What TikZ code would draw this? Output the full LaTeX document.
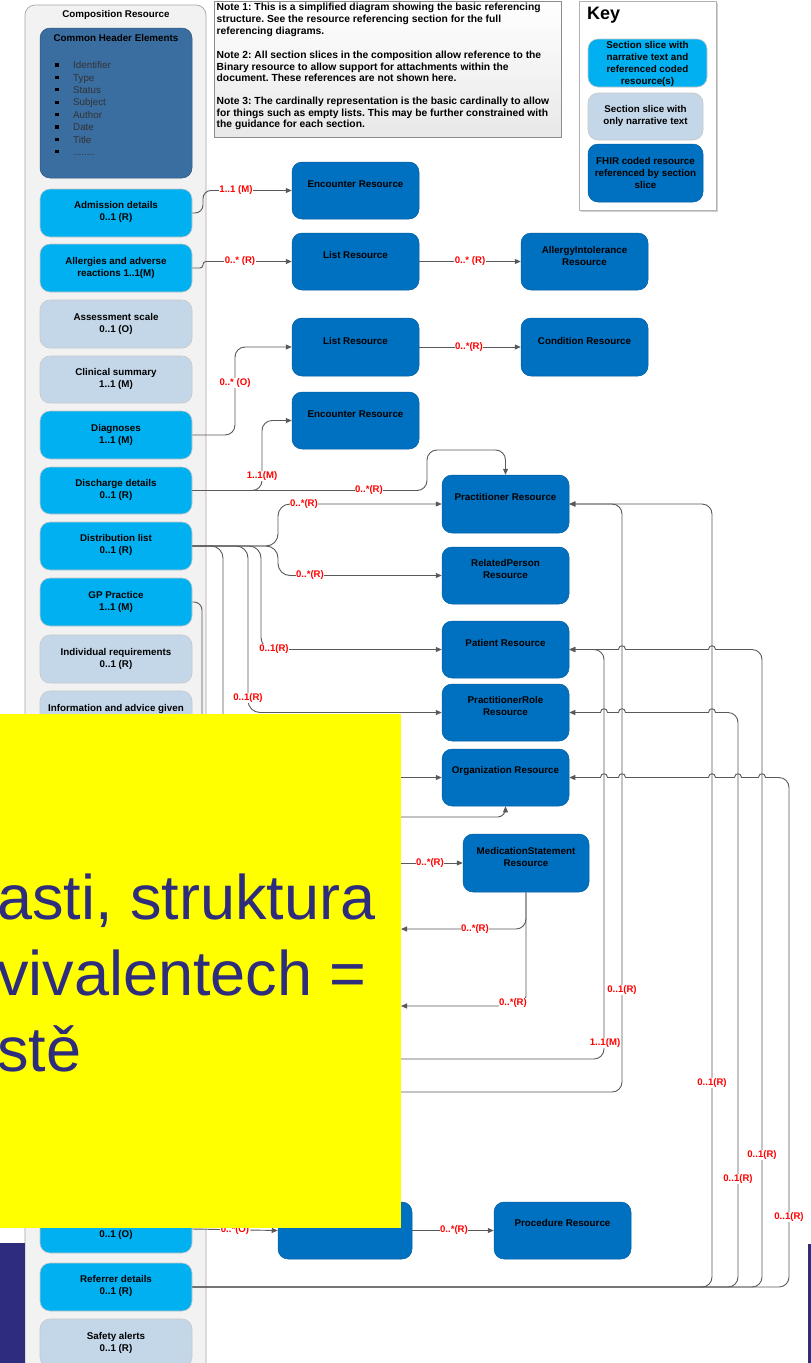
\documentclass[tikz,border=0pt]{standalone}
\usepackage{fontspec}
\setmainfont{Liberation Sans}
\usetikzlibrary{arrows.meta,fit}
\definecolor{brightS}{RGB}{0,176,240}
\definecolor{lightS}{RGB}{196,215,233}
\definecolor{resB}{RGB}{0,112,192}
\definecolor{hdrB}{RGB}{58,109,160}
\definecolor{contF}{RGB}{242,242,242}
\definecolor{lineG}{RGB}{89,89,89}
\definecolor{lblR}{RGB}{255,0,0}
\definecolor{navyT}{RGB}{46,44,124}
\definecolor{yel}{RGB}{255,255,0}
\frenchspacing
\tikzset{
  boxbase/.style={rounded corners=10pt, inner sep=0pt},
  slicebright/.style={boxbase, fill=brightS, draw=black!22, line width=0.6pt},
  slicelight/.style={boxbase, fill=lightS, draw=black!22, line width=0.6pt},
  resbox/.style={boxbase, fill=resB, draw=resB!85!black, line width=0.5pt},
  btxt/.style={font=\fontsize{9.8}{12}\selectfont\bfseries, align=center, inner sep=0pt, text=black},
  lbl/.style={font=\fontsize{9.6}{11}\selectfont\bfseries, text=lblR, fill=white, inner sep=0.6pt},
  conn/.style={draw=lineG, line width=0.9pt, rounded corners=10pt, -{Triangle[length=6pt,width=5pt]}},
  connS/.style={draw=lineG, line width=0.9pt, sharp corners, -{Triangle[length=6pt,width=5pt]}},
  connA/.style={draw=lineG, line width=0.9pt, rounded corners=10pt},
  hop/.style args={#1/#2}{insert path={-- (#1+3.5,#2) .. controls (#1+3.5,#2-5) and (#1-3.5,#2-5) .. (#1-3.5,#2)}},
  ytxt/.style={font=\fontsize{63}{76}\selectfont, text=navyT, inner sep=0pt, anchor=base west},
  notetxt/.style={anchor=west, align=left, inner sep=0pt, font=\fontsize{10.3}{11.8}\selectfont\bfseries},
}
\begin{document}
\begin{tikzpicture}[x=1pt,y=-1pt]
\useasboundingbox (0,0) rectangle (811,1363);
\clip (0,0) rectangle (811,1363);
\fill[white] (0,0) rectangle (811,1363);

% ---------- Composition container ----------
\node[fit={(25,5)(206,1400)}, rounded corners=10pt, fill=contF, draw=black!35, line width=0.7pt, inner sep=0pt] (comp) {};
\node[btxt] (compt) at (116,15) {Composition Resource};
\node[fit={(40,28)(192,178)}, rounded corners=10pt, fill=hdrB, draw=hdrB!80!black, line width=0.5pt, inner sep=0pt] (hdr) {};
\node[btxt] (hdrt) at (116,38) {Common Header Elements};
\node[anchor=west, align=left, inner sep=0pt, text=black!80, font=\fontsize{9.8}{12.4}\selectfont] (blist) at (73,108.5)
  {Identifier\\Type\\Status\\Subject\\Author\\Date\\Title\\........};
\foreach \yy in {65,77.4,89.8,102.2,114.6,127,139.4,151.8}{
  \fill[black] (55.3,\yy-1.6) rectangle (58.5,\yy+1.6);
}

% ---------- Section slices ----------
\node[slicebright, fit={(40,189)(192,237)}] (s1) {};
\node[btxt] (s1t) at (116,212) {Admission details\\0..1 (R)};
\node[slicebright, fit={(40,244)(192,292)}] (s2) {};
\node[btxt] (s2t) at (116,268) {Allergies and adverse\\reactions 1..1(M)};
\node[slicelight, fit={(40,300)(192,348)}] (s3) {};
\node[btxt] (s3t) at (116,323.5) {Assessment scale\\0..1 (O)};
\node[slicelight, fit={(40,356)(192,403)}] (s4) {};
\node[btxt] (s4t) at (116,379) {Clinical summary\\1..1 (M)};
\node[slicebright, fit={(40,411)(192,459)}] (s5) {};
\node[btxt] (s5t) at (116,434.5) {Diagnoses\\1..1 (M)};
\node[slicebright, fit={(40,467)(192,514)}] (s6) {};
\node[btxt] (s6t) at (116,490) {Discharge details\\0..1 (R)};
\node[slicebright, fit={(40,522)(192,570)}] (s7) {};
\node[btxt] (s7t) at (116,545) {Distribution list\\0..1 (R)};
\node[slicebright, fit={(40,578)(192,626)}] (s8) {};
\node[btxt] (s8t) at (116,602) {GP Practice\\1..1 (M)};
\node[slicelight, fit={(40,635)(192,683)}] (s9) {};
\node[btxt] (s9t) at (116,659) {Individual requirements\\0..1 (R)};
\node[slicelight, fit={(40,691)(192,739)}] (s10) {};
\node[btxt] (s10t) at (116,709) {Information and advice given};
\node[slicebright, fit={(40,1205)(192,1253)}] (s11) {};
\node[btxt] (s11t) at (116,1235) {0..1 (O)};
\node[slicebright, fit={(40,1263)(192,1311)}] (s12) {};
\node[btxt] (s12t) at (116,1286) {Referrer details\\0..1 (R)};
\node[slicelight, fit={(40,1319)(192,1367)}] (s13) {};
\node[btxt] (s13t) at (116,1343) {Safety alerts\\0..1 (R)};

% ---------- Notes ----------
\node[fit={(214,1)(561,137)}, inner sep=0pt, draw=black!45, line width=0.6pt, top color=white, bottom color=black!9] (notes) {};
\node[notetxt] (n1) at (216.5,20)
 {Note 1: This is a simplified diagram showing the basic referencing\\structure. See the resource referencing section for the full\\referencing diagrams.};
\node[notetxt] (n2) at (216.5,66.5)
 {Note 2: All section slices in the composition allow reference to the\\Binary resource to allow support for attachments within the\\document. These references are not shown here.};
\node[notetxt] (n3) at (216.5,113.5)
 {Note 3: The cardinally representation is the basic cardinally to allow\\for things such as empty lists. This may be further constrained with\\the guidance for each section.};

% ---------- Key ----------
\fill[black!18] (581,3) rectangle (718,212);
\node[fit={(579,1)(716,210)}, inner sep=0pt, fill=white, draw=black!30, line width=0.6pt] (key) {};
\node[anchor=west, inner sep=0pt, font=\fontsize{18}{20}\selectfont\bfseries] (keyt) at (587,15) {Key};
\node[slicebright, fit={(588,39)(707,87)}] (k1) {};
\node[btxt] (k1t) at (647.5,63.5) {Section slice with\\narrative text and\\referenced coded\\resource(s)};
\node[slicelight, fit={(588,93)(703,140)}] (k2) {};
\node[btxt] (k2t) at (645.5,116) {Section slice with\\only narrative text};
\node[resbox, fit={(588,144)(703,202)}] (k3) {};
\node[btxt] (k3t) at (645.5,172.5) {FHIR coded resource\\referenced by section\\slice};

% ---------- Resource boxes ----------
\node[resbox, fit={(292,162)(419,219)}] (enc1) {};
\node[btxt] (enc1t) at (355.5,184) {Encounter Resource};
\node[resbox, fit={(292,233)(419,290)}] (list1) {};
\node[btxt] (list1t) at (355.5,255) {List Resource};
\node[resbox, fit={(521,233)(648,290)}] (allergy) {};
\node[btxt] (allergyt) at (584.5,256) {AllergyIntolerance\\Resource};
\node[resbox, fit={(292,318)(419,376)}] (list2) {};
\node[btxt] (list2t) at (355.5,341) {List Resource};
\node[resbox, fit={(521,318)(648,376)}] (cond) {};
\node[btxt] (condt) at (584.5,341) {Condition Resource};
\node[resbox, fit={(292,392)(419,449)}] (enc2) {};
\node[btxt] (enc2t) at (355.5,414) {Encounter Resource};
\node[resbox, fit={(442,475)(569,533)}] (prac) {};
\node[btxt] (pract) at (505.5,497) {Practitioner Resource};
\node[resbox, fit={(442,547)(569,604)}] (relp) {};
\node[btxt] (relpt) at (505.5,569) {RelatedPerson\\Resource};
\node[resbox, fit={(442,621)(569,678)}] (pat) {};
\node[btxt] (patt) at (505.5,643) {Patient Resource};
\node[resbox, fit={(442,684)(569,741)}] (prole) {};
\node[btxt] (prolet) at (505.5,706) {PractitionerRole\\Resource};
\node[resbox, fit={(442,749)(569,806)}] (org) {};
\node[btxt] (orgt) at (505.5,771) {Organization Resource};
\node[resbox, fit={(463,834)(589,892)}] (meds) {};
\node[btxt] (medst) at (526,857) {MedicationStatement\\Resource};
\node[resbox, fit={(278,1202)(412,1259)}] (hid) {};
\node[resbox, fit={(494,1202)(631,1259)}] (proc) {};
\node[btxt] (proct) at (562.5,1223) {Procedure Resource};

% ---------- hidden-end coordinates ----------
\coordinate (hA) at (380,863);
\coordinate (hB) at (401,929);
\coordinate (hC) at (401,1006);
\coordinate (hD) at (380,1059);
\coordinate (hE) at (380,1092);
\coordinate (oA) at (776,777.5);
\coordinate (rA) at (726,712.5);
\coordinate (pA) at (750,649.5);

% ---------- Connectors ----------
\draw[conn, rounded corners=8pt] (s1.east) -- (203,213) -- (203,190.5) -- (enc1.west);
\draw[conn, rounded corners=3pt] (s2.east) -- (203,268) -- (203,261.5) -- (list1.west);
\draw[conn] (list1.east) -- (allergy.west);
\draw[conn] (s5.east) -- (235,435) -- (235,347) -- (list2.west);
\draw[conn] (list2.east) -- (cond.west);
\draw[conn] (s6.east) -- (262,490.5) -- (262,420.5) -- (enc2.west);
\draw[conn] (s6.east) -- (427,490.5) -- (427,450) -- (505.5,450) -- (prac.north);
\draw[conn, rounded corners=12pt] (s7.east) -- (278,546) -- (278,504) -- (prac.west);
\draw[conn, rounded corners=12pt] (s7.east) -- (278,546) -- (278,575.5) -- (relp.west);
\draw[conn, rounded corners=12pt] (s7.east) -- (261,546) -- (261,649.5) -- (pat.west);
\draw[conn, rounded corners=12pt] (s7.east) -- (248,546) -- (248,712.5) -- (prole.west);
\draw[conn, rounded corners=12pt] (s7.east) -- (223,546) -- (223,777.5) -- (org.west);
\draw[conn, rounded corners=8pt] (s8.east) -- (202,602) -- (202,817) -- (505.5,817) -- (org.south);
\draw[conn] (hA) -- (meds.west);
\draw[conn] (meds.south) -- (526,929) -- (hB);
\draw[conn] (meds.south) -- (526,1006) -- (hC);
\draw[conn] (hD) -- (604,1059) -- (604,649.5) -- (pat.east);
\draw[conn] (hE) -- (622,1092) -- (622,504) -- (prac.east);
\draw[conn] (s12.east) -- (712,1287) -- (712,504) -- (prac.east);
\draw[connA] (s12.east) -- (738,1287) -- (738,712.5) -- (rA);
\draw[connS] (rA) [hop=712/712.5] [hop=622/712.5] [hop=604/712.5] -- (prole.east);
\draw[connA] (s12.east) -- (762,1287) -- (762,649.5) -- (pA);
\draw[connS] (pA) [hop=712/649.5] [hop=622/649.5] -- (pat.east);
\draw[connA] (s12.east) -- (789,1287) -- (789,777.5) -- (oA);
\draw[connS] (oA) [hop=762/777.5] [hop=738/777.5] [hop=712/777.5] [hop=622/777.5] [hop=604/777.5] -- (org.east);
\draw[conn] (s11.east) -- (hid.west);
\draw[conn] (hid.east) -- (proc.west);

% ---------- Cardinality labels ----------
\node[lbl] (l1) at (236,190.5) {1..1 (M)};
\node[lbl] (l2) at (240,261.5) {0..* (R)};
\node[lbl] (l3) at (470,261.5) {0..* (R)};
\node[lbl] (l4) at (235,383) {0..* (O)};
\node[lbl] (l5) at (469,347) {0..*(R)};
\node[lbl] (l6) at (262,476) {1..1(M)};
\node[lbl] (l7) at (369,490.5) {0..*(R)};
\node[lbl] (l8) at (304,504) {0..*(R)};
\node[lbl] (l9) at (310,575.5) {0..*(R)};
\node[lbl] (l10) at (274,649.5) {0..1(R)};
\node[lbl] (l11) at (248,698) {0..1(R)};
\node[lbl] (l12) at (430,863) {0..*(R)};
\node[lbl] (l13) at (475,929) {0..*(R)};
\node[lbl] (l14) at (513,1003) {0..*(R)};
\node[lbl] (l15) at (605,1043) {1..1(M)};
\node[lbl] (l16) at (622,990) {0..1(R)};
\node[lbl] (l17) at (712,1083) {0..1(R)};
\node[lbl] (l18) at (738,1179) {0..1(R)};
\node[lbl] (l19) at (762,1155) {0..1(R)};
\node[lbl] (l20) at (789,1217) {0..1(R)};
\node[lbl] (l21) at (235,1230) {0..*(O)};
\node[lbl] (l22) at (454,1230) {0..*(R)};

% ---------- Overlay (yellow slide panel) ----------
\fill[yel] (0,714) rectangle (401,1228);
\begin{scope}
\clip (0,714) rectangle (401,1228);
\node[ytxt] (y1) at (-3,919) {asti, struktura};
\node[ytxt] (y2) at (-3,995) {vivalentech =};
\node[ytxt] (y3) at (-3,1071) {stě};
\end{scope}
\fill[navyT] (0,1243) rectangle (25,1363);
\fill[navyT] (808,1244) rectangle (811,1363);
\end{tikzpicture}
\end{document}
